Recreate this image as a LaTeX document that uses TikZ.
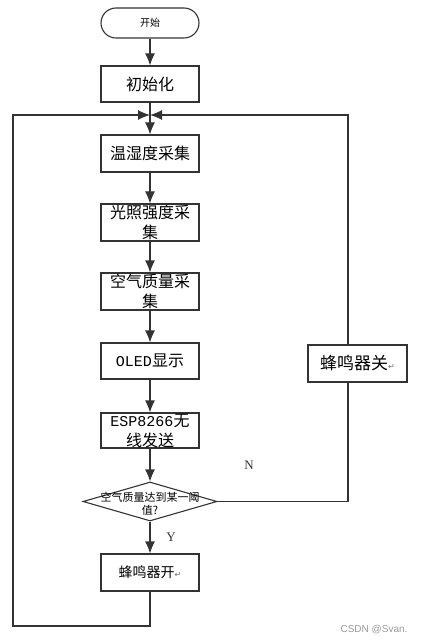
\documentclass[tikz,border=0pt]{standalone}
\usepackage{fontspec}
\setmainfont{Noto Sans CJK SC}
\newfontfamily\latinf{Liberation Mono}
\newfontfamily\seriff{Liberation Serif}
\newfontfamily\symf{DejaVu Sans}
\newfontfamily\markf{Liberation Sans}
\usetikzlibrary{shapes.geometric, arrows.meta, positioning, calc}
\definecolor{flow-gray}{HTML}{333333}
\definecolor{mark-gray}{HTML}{9A9A9A}

\newcommand{\retmark}{{\symf\fontsize{8}{8}\selectfont\color{flow-gray!70}↵}}

\tikzset{
    procbox/.style={draw=flow-gray, line width=1.1pt, rectangle, minimum width=98pt,
        minimum height=37pt, inner sep=0pt, align=center, font=\fontsize{16}{20}\selectfont},
    startbox/.style={draw=flow-gray, line width=1.1pt, rectangle, rounded corners=15pt,
        minimum width=98pt, minimum height=30pt, inner sep=0pt, font=\fontsize{10}{12}\selectfont},
    decide/.style={draw=flow-gray, line width=1.1pt, diamond, minimum width=134pt,
        minimum height=39pt, inner sep=0pt},
    flowline/.style={draw=flow-gray, line width=1.1pt},
    yn/.style={font=\seriff\fontsize{13}{13}\selectfont, text=flow-gray}
}

\begin{document}
\begin{tikzpicture}[x=1pt, y=-1pt, >={Latex[length=12pt, width=10pt]}]
    \useasboundingbox (0,0) rectangle (422,644);

    % Main column
    \node[startbox] (start) at (150,23) {开始};
    \node[procbox, minimum height=36pt] (init) at (150,84) {初始化};
    \node[procbox] (temp) at (150,153.5) {温湿度采集};
    \node[procbox] (light) at (150,222.5) {光照强度采\\集};
    \node[procbox] (air) at (150,291.5) {空气质量采\\集};
    \node[procbox, minimum height=36pt] (oled) at (150,361) {{\latinf\fontsize{15}{20}\selectfont OLED}显示};
    \node[procbox, minimum height=35pt] (esp) at (150,430.5) {{\latinf\fontsize{15}{20}\selectfont ESP8266}无\\线发送};
    \node[decide] (judge) at (150,501.5) {};
    \node[inner sep=0pt, align=center, font=\fontsize{11}{13}\selectfont] (judgetxt) at (150,503.5) {空气质量达到某一阈\\值?};
    \node[procbox] (on) at (150,572.5) {{\fontsize{14}{20}\selectfont 蜂鸣器开}\retmark};
    \node[procbox, minimum width=99pt] (off) at (357.5,363.5) {{\fontsize{17}{20}\selectfont 蜂鸣器关}\retmark};

    % Loop points
    \coordinate (merge) at (150,115);
    \coordinate (rx) at (348,0);
    \coordinate (lx) at (13,0);
    \coordinate (bot) at (0,626);

    % Connectors
    \draw[flowline, ->] (start.south) -- (init.north);
    \draw[flowline, ->] (init.south) -- (temp.north);
    \draw[flowline, ->] (temp) -- (light);
    \draw[flowline, ->] (light) -- (air);
    \draw[flowline, ->] (air) -- (oled);
    \draw[flowline, ->] (oled) -- (esp);
    \draw[flowline, ->] (esp.south) -- (judge.north);
    \draw[flowline, ->] (judge.south) -- (on.north);

    % No branch
    \draw[flowline] (judge.east) -- (judge.east -| rx) -- (off.south -| rx);
    \draw[flowline, ->] (off.north -| rx) |- (merge);

    % Back to start of loop
    \draw[flowline, ->] (on.south) -- (on.south |- bot) -| (lx |- merge) -- (merge);

    % Labels
    \node[yn] (ylab) at (171,537) {Y};
    \node[yn] (nlab) at (249,465) {N};
    \node[font=\markf\fontsize{10}{10}\selectfont, text=mark-gray] (mark) at (374,630) {CSDN @Svan.};
\end{tikzpicture}
\end{document}
